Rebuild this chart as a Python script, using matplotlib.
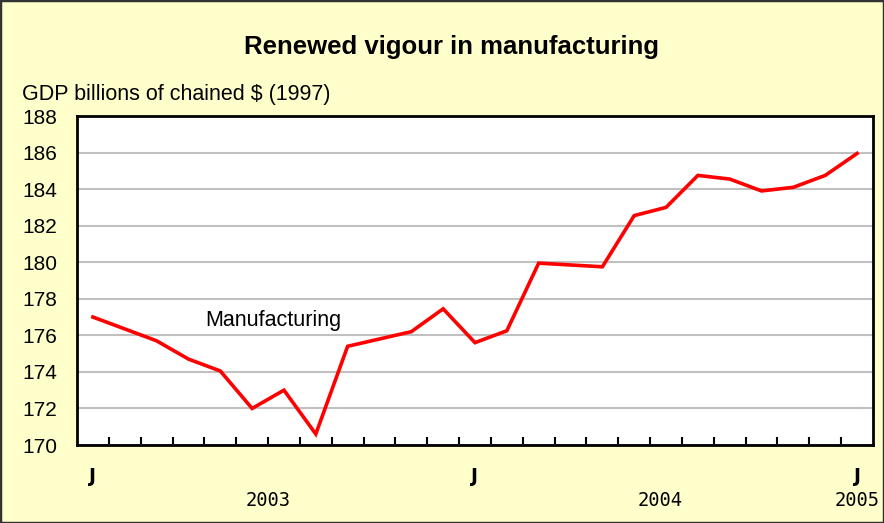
import matplotlib.pyplot as plt
import matplotlib.transforms as mtransforms
from matplotlib.patches import Rectangle

# monthly values, Jan 2003 .. Jan 2005
months = list(range(25))
gdp = [177.0, 176.35, 175.7, 174.7, 174.05, 172.0, 173.0, 170.6, 175.4, 175.8,
       176.2, 177.45, 175.6, 176.25, 179.95, 179.85, 179.75, 182.55, 183.0,
       184.75, 184.55, 183.9, 184.1, 184.75, 185.95]
yticks = list(range(170, 189, 2))
jan_labels = {0: 'J', 12: 'J', 24: 'J'}
year_labels = {5.5: '2003', 17.8: '2004', 24: '2005'}

plt.rcParams['font.family'] = ['Liberation Sans', 'DejaVu Sans']
bg = '#FFFFCC'

fig = plt.figure(figsize=(8.84, 5.23), dpi=100, facecolor=bg)
ax = fig.add_axes([77/884, 1 - 445/523, 796/884, 329/523])
ax.set_facecolor('white')

ax.plot(months, gdp, color='#FF0000', lw=2.6, solid_joinstyle='miter', zorder=3)

ax.set_xlim(-0.5, 24.5)
ax.set_ylim(170, 188)
ax.set_yticks(yticks)
ax.set_yticklabels([str(v) for v in yticks], fontsize=15)
ax.tick_params(axis='y', length=0, pad=14)
ax.grid(axis='y', color='#C0C0C0', lw=1.5, zorder=1)

# category boundary ticks along the bottom, pointing up
ax.set_xticks([m + 0.5 for m in months[:-1]])
ax.set_xticklabels([])
ax.tick_params(axis='x', direction='in', length=6, width=1.5, color='black')

for s in ax.spines.values():
    s.set_color('black')
    s.set_linewidth(2)

trans = mtransforms.blended_transform_factory(ax.transData, fig.transFigure)
for m, lab in jan_labels.items():
    ax.text(m, 1 - 476/523, lab, transform=trans, ha='center', va='center',
            fontsize=13.5, fontweight='bold', family='DejaVu Sans')
for m, lab in year_labels.items():
    ax.text(m, 1 - 501/523, lab, transform=trans, ha='center', va='center',
            fontsize=13.5, family='DejaVu Sans Mono')

ax.text(3.52, 176.8, 'Manufacturing', fontsize=15.5, ha='left', va='center')

fig.text(452/884, 1 - 47/523, 'Renewed vigour in manufacturing', ha='center', va='center',
         fontsize=18.5, fontweight='bold')
fig.text(22/884, 1 - 95/523, 'GDP billions of chained $ (1997)', ha='left', va='center',
         fontsize=15.5)

# figure border
fig.patches.append(Rectangle((0, 0), 1, 1, transform=fig.transFigure, fill=False,
                             edgecolor='#333333', lw=2.5))

fig.savefig('out.png', dpi=100, facecolor=bg)
